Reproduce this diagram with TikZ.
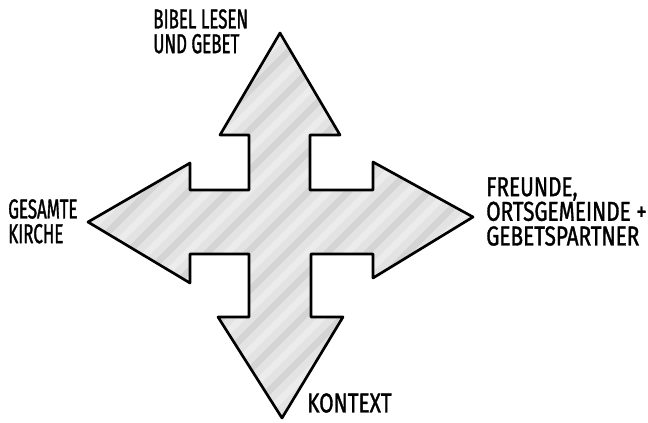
\documentclass[tikz,border=0pt]{standalone}
\usepackage{fontspec}
\newfontfamily\handfont[FakeStretch=0.76,FakeBold=1.2]{Fira Sans}
\newfontfamily\handnarrow[FakeStretch=0.62,FakeBold=1.2]{Fira Sans}
\usetikzlibrary{positioning}

\def\crosspath{(280,33) -- (340,135) -- (310,135) -- (310,190) -- (373,190)
  -- (373,162) -- (473,217) -- (373,278) -- (373,254) -- (311,254) -- (311,317)
  -- (343,317) -- (282,418) -- (218,317) -- (249,317) -- (249,254) -- (190,254)
  -- (190,283) -- (88,222) -- (190,163) -- (190,190) -- (249,190) -- (249,135)
  -- (220,135) -- cycle}

\begin{document}
\begin{tikzpicture}[x=0.75pt, y=-0.75pt, line join=round]
        \tikzset{crossfill/.style={fill=gray!22, draw=none},
                 crossline/.style={draw=black, line width=2pt},
                 streak/.style={line width=5pt, opacity=0.35},
                 lbl/.style={inner sep=0pt, anchor=north west, align=left,
                   font=\handfont\fontsize{20.5}{18.5}\selectfont},
                 narrowlbl/.style={lbl, font=\handnarrow\fontsize{20.5}{18.5}\selectfont}}
        \useasboundingbox (0,0) rectangle (648,422);

        % four-way arrow
        \path[crossfill] \crosspath;
        \begin{scope}
            \clip \crosspath;
            \foreach \k in {-300,-260,...,700}
                \draw[streak, gray!55] (\k,440) -- ++(440,-440);
            \foreach \k in {-280,-240,...,700}
                \draw[streak, white] (\k,440) -- ++(440,-440);
        \end{scope}
        \draw[crossline] \crosspath;

        % labels
        \node[narrowlbl] (bibel) at (153,9) {BIBEL LESEN\\UND GEBET};
        \node[lbl] (freunde) at (486,177) {FREUNDE,\\ORTSGEMEINDE +\\GEBETSPARTNER};
        \node[narrowlbl] (gesamte) at (8,199) {GESAMTE\\KIRCHE};
        \node[lbl] (kontext) at (307,393) {KONTEXT};
\end{tikzpicture}
\end{document}
